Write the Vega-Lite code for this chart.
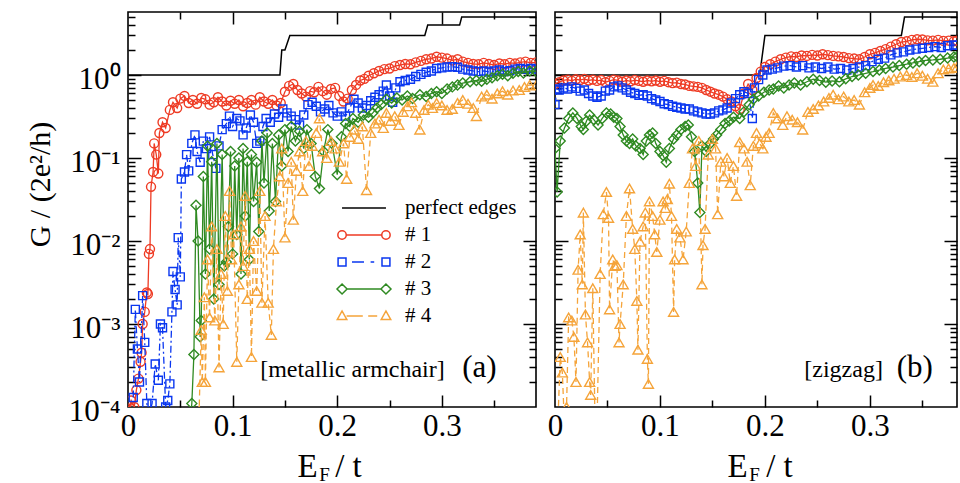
{
"$schema": "https://vega.github.io/schema/vega-lite/v6.json",
"padding": {"left": 24, "top": 10, "right": 0, "bottom": 0},
"background": "white",
"datasets": {
"a0": [{"x":0,"g":1},{"x":0.1452,"g":1},{"x":0.147,"g":2},{"x":0.150,"g":2},{"x":0.1547,"g":3},{"x":0.2837,"g":3},{"x":0.2865,"g":4},{"x":0.317,"g":4},{"x":0.319,"g":5},{"x":0.39,"g":5}],
"b0": [{"x":0,"g":1},{"x":0.195,"g":1},{"x":0.2,"g":3},{"x":0.330,"g":3},{"x":0.333,"g":5},{"x":0.383,"g":5}],
"a1": [{"x":0.000,"g":0.00009},{"x":0.003,"g":0.00012},{"x":0.006,"g":0.0001},{"x":0.008,"g":0.00016},{"x":0.010,"g":0.00022},{"x":0.012,"g":0.00035},{"x":0.013,"g":0.00045},{"x":0.014,"g":0.001},{"x":0.016,"g":0.0014},{"x":0.018,"g":0.0024},{"x":0.019,"g":0.0023},{"x":0.020,"g":0.007},{"x":0.021,"g":0.008},{"x":0.022,"g":0.045},{"x":0.024,"g":0.068},{"x":0.025,"g":0.15},{"x":0.027,"g":0.11},{"x":0.029,"g":0.065},{"x":0.030,"g":0.2},{"x":0.033,"g":0.27},{"x":0.036,"g":0.23},{"x":0.040,"g":0.38},{"x":0.043,"g":0.47},{"x":0.047,"g":0.4},{"x":0.050,"g":0.52},{"x":0.054,"g":0.56},{"x":0.058,"g":0.46},{"x":0.062,"g":0.5},{"x":0.066,"g":0.45},{"x":0.070,"g":0.53},{"x":0.074,"g":0.51},{"x":0.078,"g":0.44},{"x":0.082,"g":0.47},{"x":0.086,"g":0.54},{"x":0.090,"g":0.48},{"x":0.094,"g":0.43},{"x":0.098,"g":0.49},{"x":0.102,"g":0.45},{"x":0.106,"g":0.5},{"x":0.110,"g":0.42},{"x":0.114,"g":0.46},{"x":0.118,"g":0.5},{"x":0.122,"g":0.44},{"x":0.126,"g":0.54},{"x":0.130,"g":0.48},{"x":0.134,"g":0.45},{"x":0.138,"g":0.5},{"x":0.142,"g":0.43},{"x":0.146,"g":0.46},{"x":0.150,"g":0.63},{"x":0.154,"g":0.74},{"x":0.158,"g":0.78},{"x":0.162,"g":0.66},{"x":0.166,"g":0.6},{"x":0.170,"g":0.55},{"x":0.174,"g":0.64},{"x":0.178,"g":0.62},{"x":0.182,"g":0.72},{"x":0.186,"g":0.64},{"x":0.190,"g":0.58},{"x":0.194,"g":0.68},{"x":0.198,"g":0.7},{"x":0.202,"g":0.56},{"x":0.206,"g":0.48},{"x":0.210,"g":0.52},{"x":0.214,"g":0.66},{"x":0.218,"g":0.76},{"x":0.222,"g":0.86},{"x":0.226,"g":0.9},{"x":0.230,"g":0.98},{"x":0.235,"g":1.05},{"x":0.240,"g":1.12},{"x":0.245,"g":1.18},{"x":0.250,"g":1.2},{"x":0.255,"g":1.28},{"x":0.260,"g":1.32},{"x":0.265,"g":1.36},{"x":0.270,"g":1.35},{"x":0.275,"g":1.42},{"x":0.280,"g":1.48},{"x":0.285,"g":1.55},{"x":0.290,"g":1.58},{"x":0.295,"g":1.66},{"x":0.300,"g":1.62},{"x":0.305,"g":1.58},{"x":0.310,"g":1.5},{"x":0.315,"g":1.55},{"x":0.320,"g":1.45},{"x":0.325,"g":1.4},{"x":0.330,"g":1.36},{"x":0.335,"g":1.35},{"x":0.340,"g":1.4},{"x":0.345,"g":1.36},{"x":0.350,"g":1.32},{"x":0.355,"g":1.38},{"x":0.360,"g":1.35},{"x":0.365,"g":1.4},{"x":0.370,"g":1.38},{"x":0.375,"g":1.42},{"x":0.380,"g":1.45},{"x":0.385,"g":1.4},{"x":0.390,"g":1.42}],
"a2": [{"x":0.005,"g":0.00013},{"x":0.007,"g":0.0015},{"x":0.009,"g":0.0005},{"x":0.011,"g":0.0002},{"x":0.014,"g":0.0022},{"x":0.016,"g":0.0006},{"x":0.018,"g":0.00011},{"x":0.020,"g":0.00008},{"x":0.023,"g":0.00011},{"x":0.026,"g":0.00033},{"x":0.029,"g":0.00021},{"x":0.031,"g":0.001},{"x":0.033,"g":0.0009},{"x":0.036,"g":0.0001},{"x":0.038,"g":0.00012},{"x":0.040,"g":0.00019},{"x":0.042,"g":0.0014},{"x":0.043,"g":0.0043},{"x":0.045,"g":0.0026},{"x":0.047,"g":0.0017},{"x":0.048,"g":0.011},{"x":0.050,"g":0.0037},{"x":0.051,"g":0.056},{"x":0.054,"g":0.068},{"x":0.056,"g":0.11},{"x":0.058,"g":0.07},{"x":0.061,"g":0.15},{"x":0.064,"g":0.19},{"x":0.066,"g":0.12},{"x":0.069,"g":0.089},{"x":0.072,"g":0.16},{"x":0.075,"g":0.13},{"x":0.078,"g":0.18},{"x":0.081,"g":0.11},{"x":0.084,"g":0.075},{"x":0.087,"g":0.14},{"x":0.090,"g":0.22},{"x":0.094,"g":0.26},{"x":0.097,"g":0.32},{"x":0.100,"g":0.24},{"x":0.104,"g":0.3},{"x":0.107,"g":0.28},{"x":0.110,"g":0.19},{"x":0.113,"g":0.23},{"x":0.117,"g":0.33},{"x":0.120,"g":0.27},{"x":0.123,"g":0.15},{"x":0.126,"g":0.16},{"x":0.129,"g":0.24},{"x":0.132,"g":0.3},{"x":0.136,"g":0.27},{"x":0.140,"g":0.34},{"x":0.144,"g":0.31},{"x":0.148,"g":0.39},{"x":0.152,"g":0.35},{"x":0.156,"g":0.32},{"x":0.160,"g":0.29},{"x":0.164,"g":0.25},{"x":0.168,"g":0.33},{"x":0.172,"g":0.44},{"x":0.176,"g":0.47},{"x":0.180,"g":0.42},{"x":0.184,"g":0.36},{"x":0.188,"g":0.39},{"x":0.192,"g":0.43},{"x":0.196,"g":0.35},{"x":0.200,"g":0.32},{"x":0.204,"g":0.36},{"x":0.208,"g":0.32},{"x":0.212,"g":0.4},{"x":0.216,"g":0.51},{"x":0.220,"g":0.46},{"x":0.224,"g":0.4},{"x":0.228,"g":0.43},{"x":0.232,"g":0.49},{"x":0.236,"g":0.54},{"x":0.240,"g":0.58},{"x":0.244,"g":0.64},{"x":0.247,"g":0.76},{"x":0.250,"g":0.56},{"x":0.253,"g":0.47},{"x":0.256,"g":0.7},{"x":0.260,"g":0.83},{"x":0.265,"g":0.86},{"x":0.270,"g":0.89},{"x":0.275,"g":0.96},{"x":0.280,"g":1.02},{"x":0.285,"g":1.08},{"x":0.290,"g":1.12},{"x":0.295,"g":1.2},{"x":0.300,"g":1.22},{"x":0.305,"g":1.25},{"x":0.310,"g":1.26},{"x":0.315,"g":1.24},{"x":0.320,"g":1.18},{"x":0.325,"g":1.15},{"x":0.330,"g":1.12},{"x":0.335,"g":1.1},{"x":0.340,"g":1.12},{"x":0.345,"g":1.09},{"x":0.350,"g":1.12},{"x":0.355,"g":1.15},{"x":0.360,"g":1.1},{"x":0.365,"g":1.13},{"x":0.370,"g":1.18},{"x":0.375,"g":1.2},{"x":0.380,"g":1.17},{"x":0.385,"g":1.2},{"x":0.390,"g":1.18}],
"a3": [{"x":0.060,"g":0.00008},{"x":0.061,"g":0.00011},{"x":0.063,"g":0.00043},{"x":0.065,"g":0.027},{"x":0.067,"g":0.01},{"x":0.069,"g":0.0007},{"x":0.070,"g":0.0011},{"x":0.072,"g":0.06},{"x":0.074,"g":0.004},{"x":0.076,"g":0.14},{"x":0.078,"g":0.008},{"x":0.080,"g":0.09},{"x":0.082,"g":0.002},{"x":0.085,"g":0.15},{"x":0.087,"g":0.003},{"x":0.090,"g":0.11},{"x":0.092,"g":0.005},{"x":0.094,"g":0.0056},{"x":0.096,"g":0.015},{"x":0.098,"g":0.12},{"x":0.100,"g":0.007},{"x":0.102,"g":0.08},{"x":0.104,"g":0.012},{"x":0.106,"g":0.1},{"x":0.108,"g":0.004},{"x":0.110,"g":0.13},{"x":0.112,"g":0.02},{"x":0.114,"g":0.09},{"x":0.116,"g":0.006},{"x":0.118,"g":0.11},{"x":0.120,"g":0.03},{"x":0.123,"g":0.089},{"x":0.125,"g":0.013},{"x":0.128,"g":0.16},{"x":0.130,"g":0.05},{"x":0.133,"g":0.2},{"x":0.135,"g":0.023},{"x":0.138,"g":0.15},{"x":0.141,"g":0.03},{"x":0.144,"g":0.19},{"x":0.147,"g":0.08},{"x":0.150,"g":0.22},{"x":0.153,"g":0.12},{"x":0.156,"g":0.24},{"x":0.160,"g":0.16},{"x":0.164,"g":0.21},{"x":0.168,"g":0.13},{"x":0.171,"g":0.22},{"x":0.175,"g":0.15},{"x":0.179,"g":0.06},{"x":0.183,"g":0.043},{"x":0.187,"g":0.12},{"x":0.191,"g":0.22},{"x":0.195,"g":0.15},{"x":0.200,"g":0.063},{"x":0.204,"g":0.18},{"x":0.208,"g":0.26},{"x":0.212,"g":0.24},{"x":0.215,"g":0.3},{"x":0.220,"g":0.27},{"x":0.225,"g":0.33},{"x":0.230,"g":0.31},{"x":0.234,"g":0.35},{"x":0.238,"g":0.4},{"x":0.242,"g":0.44},{"x":0.247,"g":0.51},{"x":0.252,"g":0.46},{"x":0.257,"g":0.53},{"x":0.262,"g":0.5},{"x":0.267,"g":0.56},{"x":0.272,"g":0.52},{"x":0.279,"g":0.58},{"x":0.285,"g":0.55},{"x":0.290,"g":0.6},{"x":0.295,"g":0.63},{"x":0.300,"g":0.6},{"x":0.305,"g":0.68},{"x":0.310,"g":0.72},{"x":0.315,"g":0.76},{"x":0.320,"g":0.8},{"x":0.327,"g":0.83},{"x":0.333,"g":0.86},{"x":0.338,"g":0.84},{"x":0.343,"g":0.89},{"x":0.348,"g":0.93},{"x":0.353,"g":0.98},{"x":0.358,"g":1.02},{"x":0.363,"g":0.98},{"x":0.368,"g":1.05},{"x":0.373,"g":1.1},{"x":0.378,"g":1.06},{"x":0.384,"g":1.12},{"x":0.390,"g":1.1}],
"a4": [{"x":0.066,"g":0.00006},{"x":0.068,"g":0.00009},{"x":0.070,"g":0.00085},{"x":0.071,"g":0.0002},{"x":0.073,"g":0.0021},{"x":0.074,"g":0.0002},{"x":0.076,"g":0.006},{"x":0.078,"g":0.0012},{"x":0.080,"g":0.015},{"x":0.083,"g":0.0011},{"x":0.085,"g":0.008},{"x":0.087,"g":0.0003},{"x":0.089,"g":0.004},{"x":0.091,"g":0.001},{"x":0.093,"g":0.02},{"x":0.095,"g":0.0025},{"x":0.097,"g":0.04},{"x":0.099,"g":0.006},{"x":0.101,"g":0.012},{"x":0.104,"g":0.00035},{"x":0.106,"g":0.003},{"x":0.108,"g":0.015},{"x":0.110,"g":0.005},{"x":0.112,"g":0.035},{"x":0.114,"g":0.002},{"x":0.116,"g":0.008},{"x":0.118,"g":0.0004},{"x":0.120,"g":0.01},{"x":0.123,"g":0.0025},{"x":0.126,"g":0.04},{"x":0.128,"g":0.0018},{"x":0.131,"g":0.02},{"x":0.134,"g":0.0018},{"x":0.137,"g":0.00074},{"x":0.139,"g":0.008},{"x":0.142,"g":0.03},{"x":0.145,"g":0.06},{"x":0.147,"g":0.13},{"x":0.150,"g":0.011},{"x":0.153,"g":0.05},{"x":0.156,"g":0.09},{"x":0.158,"g":0.018},{"x":0.161,"g":0.07},{"x":0.164,"g":0.12},{"x":0.167,"g":0.04},{"x":0.170,"g":0.16},{"x":0.173,"g":0.08},{"x":0.176,"g":0.14},{"x":0.180,"g":0.2},{"x":0.183,"g":0.3},{"x":0.186,"g":0.12},{"x":0.190,"g":0.1},{"x":0.194,"g":0.16},{"x":0.198,"g":0.13},{"x":0.202,"g":0.09},{"x":0.206,"g":0.15},{"x":0.209,"g":0.056},{"x":0.212,"g":0.18},{"x":0.216,"g":0.22},{"x":0.220,"g":0.17},{"x":0.224,"g":0.24},{"x":0.228,"g":0.041},{"x":0.232,"g":0.2},{"x":0.236,"g":0.26},{"x":0.240,"g":0.29},{"x":0.244,"g":0.23},{"x":0.247,"g":0.35},{"x":0.251,"g":0.28},{"x":0.255,"g":0.32},{"x":0.259,"g":0.25},{"x":0.263,"g":0.36},{"x":0.267,"g":0.42},{"x":0.271,"g":0.47},{"x":0.275,"g":0.35},{"x":0.279,"g":0.22},{"x":0.283,"g":0.38},{"x":0.287,"g":0.44},{"x":0.291,"g":0.4},{"x":0.295,"g":0.46},{"x":0.300,"g":0.43},{"x":0.305,"g":0.38},{"x":0.310,"g":0.39},{"x":0.315,"g":0.46},{"x":0.320,"g":0.5},{"x":0.325,"g":0.45},{"x":0.330,"g":0.4},{"x":0.333,"g":0.32},{"x":0.338,"g":0.55},{"x":0.343,"g":0.58},{"x":0.348,"g":0.52},{"x":0.353,"g":0.6},{"x":0.358,"g":0.64},{"x":0.363,"g":0.58},{"x":0.368,"g":0.65},{"x":0.374,"g":0.66},{"x":0.379,"g":0.72},{"x":0.384,"g":0.76},{"x":0.390,"g":0.75}],
"b1": [{"x":0.000,"g":0.78},{"x":0.004,"g":0.82},{"x":0.008,"g":0.86},{"x":0.012,"g":0.88},{"x":0.016,"g":0.85},{"x":0.020,"g":0.89},{"x":0.024,"g":0.87},{"x":0.028,"g":0.9},{"x":0.032,"g":0.86},{"x":0.036,"g":0.88},{"x":0.040,"g":0.85},{"x":0.044,"g":0.87},{"x":0.048,"g":0.82},{"x":0.052,"g":0.85},{"x":0.056,"g":0.88},{"x":0.060,"g":0.86},{"x":0.064,"g":0.83},{"x":0.068,"g":0.86},{"x":0.072,"g":0.84},{"x":0.076,"g":0.87},{"x":0.080,"g":0.85},{"x":0.084,"g":0.83},{"x":0.088,"g":0.86},{"x":0.092,"g":0.84},{"x":0.096,"g":0.86},{"x":0.100,"g":0.83},{"x":0.104,"g":0.85},{"x":0.108,"g":0.82},{"x":0.112,"g":0.8},{"x":0.116,"g":0.81},{"x":0.120,"g":0.78},{"x":0.124,"g":0.77},{"x":0.128,"g":0.74},{"x":0.132,"g":0.73},{"x":0.136,"g":0.72},{"x":0.140,"g":0.7},{"x":0.144,"g":0.66},{"x":0.148,"g":0.63},{"x":0.152,"g":0.6},{"x":0.156,"g":0.58},{"x":0.160,"g":0.55},{"x":0.164,"g":0.51},{"x":0.168,"g":0.48},{"x":0.172,"g":0.42},{"x":0.176,"g":0.39},{"x":0.180,"g":0.6},{"x":0.184,"g":0.78},{"x":0.188,"g":0.66},{"x":0.192,"g":0.92},{"x":0.196,"g":1.1},{"x":0.200,"g":1.25},{"x":0.205,"g":1.35},{"x":0.210,"g":1.45},{"x":0.215,"g":1.55},{"x":0.220,"g":1.62},{"x":0.225,"g":1.68},{"x":0.230,"g":1.65},{"x":0.235,"g":1.72},{"x":0.240,"g":1.7},{"x":0.245,"g":1.75},{"x":0.250,"g":1.72},{"x":0.255,"g":1.78},{"x":0.260,"g":1.74},{"x":0.265,"g":1.7},{"x":0.270,"g":1.68},{"x":0.275,"g":1.65},{"x":0.280,"g":1.6},{"x":0.285,"g":1.58},{"x":0.290,"g":1.55},{"x":0.295,"g":1.65},{"x":0.300,"g":1.78},{"x":0.305,"g":1.85},{"x":0.310,"g":1.95},{"x":0.315,"g":2.05},{"x":0.320,"g":2.2},{"x":0.325,"g":2.35},{"x":0.330,"g":2.5},{"x":0.335,"g":2.55},{"x":0.340,"g":2.65},{"x":0.345,"g":2.7},{"x":0.350,"g":2.68},{"x":0.355,"g":2.62},{"x":0.360,"g":2.6},{"x":0.365,"g":2.65},{"x":0.370,"g":2.58},{"x":0.375,"g":2.6},{"x":0.380,"g":2.55},{"x":0.383,"g":2.6}],
"b2": [{"x":0.000,"g":0.44},{"x":0.002,"g":0.68},{"x":0.004,"g":0.66},{"x":0.008,"g":0.7},{"x":0.012,"g":0.68},{"x":0.016,"g":0.72},{"x":0.020,"g":0.69},{"x":0.024,"g":0.64},{"x":0.028,"g":0.66},{"x":0.032,"g":0.6},{"x":0.036,"g":0.56},{"x":0.040,"g":0.54},{"x":0.044,"g":0.56},{"x":0.048,"g":0.64},{"x":0.052,"g":0.66},{"x":0.056,"g":0.72},{"x":0.060,"g":0.74},{"x":0.064,"g":0.7},{"x":0.068,"g":0.66},{"x":0.072,"g":0.62},{"x":0.076,"g":0.6},{"x":0.080,"g":0.57},{"x":0.084,"g":0.58},{"x":0.088,"g":0.56},{"x":0.092,"g":0.52},{"x":0.096,"g":0.5},{"x":0.100,"g":0.48},{"x":0.104,"g":0.45},{"x":0.108,"g":0.44},{"x":0.112,"g":0.42},{"x":0.116,"g":0.41},{"x":0.120,"g":0.4},{"x":0.124,"g":0.39},{"x":0.128,"g":0.39},{"x":0.132,"g":0.37},{"x":0.136,"g":0.36},{"x":0.140,"g":0.35},{"x":0.144,"g":0.34},{"x":0.148,"g":0.34},{"x":0.152,"g":0.35},{"x":0.156,"g":0.37},{"x":0.160,"g":0.38},{"x":0.164,"g":0.4},{"x":0.168,"g":0.46},{"x":0.172,"g":0.52},{"x":0.176,"g":0.58},{"x":0.180,"g":0.63},{"x":0.184,"g":0.6},{"x":0.188,"g":0.3},{"x":0.190,"g":0.7},{"x":0.194,"g":0.88},{"x":0.198,"g":1.0},{"x":0.202,"g":1.15},{"x":0.207,"g":1.18},{"x":0.212,"g":1.22},{"x":0.218,"g":1.28},{"x":0.224,"g":1.3},{"x":0.230,"g":1.25},{"x":0.236,"g":1.3},{"x":0.242,"g":1.22},{"x":0.248,"g":1.25},{"x":0.254,"g":1.2},{"x":0.260,"g":1.25},{"x":0.266,"g":1.18},{"x":0.272,"g":1.2},{"x":0.278,"g":1.15},{"x":0.284,"g":1.2},{"x":0.290,"g":1.25},{"x":0.296,"g":1.3},{"x":0.302,"g":1.45},{"x":0.308,"g":1.55},{"x":0.314,"g":1.6},{"x":0.320,"g":1.75},{"x":0.326,"g":1.85},{"x":0.332,"g":1.9},{"x":0.338,"g":2.0},{"x":0.344,"g":2.05},{"x":0.350,"g":2.1},{"x":0.356,"g":2.15},{"x":0.362,"g":2.2},{"x":0.368,"g":2.15},{"x":0.374,"g":2.25},{"x":0.380,"g":2.3},{"x":0.383,"g":2.28}],
"b3": [{"x":0.000,"g":0.13},{"x":0.002,"g":0.039},{"x":0.005,"g":0.16},{"x":0.009,"g":0.23},{"x":0.013,"g":0.3},{"x":0.017,"g":0.35},{"x":0.021,"g":0.3},{"x":0.025,"g":0.24},{"x":0.027,"g":0.22},{"x":0.030,"g":0.28},{"x":0.033,"g":0.33},{"x":0.037,"g":0.29},{"x":0.041,"g":0.25},{"x":0.045,"g":0.3},{"x":0.049,"g":0.35},{"x":0.053,"g":0.34},{"x":0.056,"g":0.31},{"x":0.059,"g":0.3},{"x":0.062,"g":0.24},{"x":0.065,"g":0.19},{"x":0.068,"g":0.16},{"x":0.071,"g":0.15},{"x":0.074,"g":0.17},{"x":0.077,"g":0.14},{"x":0.081,"g":0.13},{"x":0.084,"g":0.11},{"x":0.087,"g":0.16},{"x":0.090,"g":0.19},{"x":0.093,"g":0.2},{"x":0.096,"g":0.15},{"x":0.100,"g":0.12},{"x":0.103,"g":0.107},{"x":0.106,"g":0.089},{"x":0.109,"g":0.13},{"x":0.113,"g":0.17},{"x":0.116,"g":0.19},{"x":0.120,"g":0.22},{"x":0.124,"g":0.24},{"x":0.127,"g":0.25},{"x":0.130,"g":0.18},{"x":0.133,"g":0.12},{"x":0.136,"g":0.05},{"x":0.138,"g":0.022},{"x":0.140,"g":0.14},{"x":0.144,"g":0.12},{"x":0.148,"g":0.15},{"x":0.151,"g":0.17},{"x":0.154,"g":0.19},{"x":0.158,"g":0.22},{"x":0.162,"g":0.26},{"x":0.166,"g":0.28},{"x":0.170,"g":0.31},{"x":0.176,"g":0.3},{"x":0.180,"g":0.36},{"x":0.185,"g":0.44},{"x":0.189,"g":0.51},{"x":0.194,"g":0.56},{"x":0.199,"g":0.62},{"x":0.204,"g":0.66},{"x":0.208,"g":0.68},{"x":0.213,"g":0.74},{"x":0.218,"g":0.7},{"x":0.223,"g":0.76},{"x":0.228,"g":0.8},{"x":0.234,"g":0.76},{"x":0.240,"g":0.83},{"x":0.246,"g":0.89},{"x":0.252,"g":0.86},{"x":0.258,"g":0.82},{"x":0.264,"g":0.85},{"x":0.271,"g":0.83},{"x":0.277,"g":0.9},{"x":0.283,"g":0.96},{"x":0.289,"g":1.0},{"x":0.296,"g":1.05},{"x":0.303,"g":1.1},{"x":0.309,"g":1.15},{"x":0.315,"g":1.2},{"x":0.322,"g":1.25},{"x":0.328,"g":1.3},{"x":0.335,"g":1.35},{"x":0.341,"g":1.4},{"x":0.347,"g":1.45},{"x":0.353,"g":1.5},{"x":0.360,"g":1.52},{"x":0.367,"g":1.55},{"x":0.374,"g":1.6},{"x":0.380,"g":1.65},{"x":0.383,"g":1.66}],
"b4": [{"x":0.000,"g":0.00006},{"x":0.003,"g":0.00008},{"x":0.005,"g":0.0004},{"x":0.007,"g":0.00026},{"x":0.009,"g":0.00006},{"x":0.011,"g":0.0001},{"x":0.013,"g":0.0012},{"x":0.016,"g":0.0011},{"x":0.018,"g":0.0007},{"x":0.020,"g":0.0002},{"x":0.022,"g":0.0045},{"x":0.024,"g":0.012},{"x":0.026,"g":0.003},{"x":0.027,"g":0.022},{"x":0.029,"g":0.0013},{"x":0.031,"g":0.0006},{"x":0.033,"g":0.0002},{"x":0.034,"g":0.00014},{"x":0.036,"g":0.0027},{"x":0.038,"g":0.00008},{"x":0.040,"g":0.00006},{"x":0.043,"g":0.004},{"x":0.046,"g":0.021},{"x":0.049,"g":0.039},{"x":0.051,"g":0.019},{"x":0.052,"g":0.0015},{"x":0.055,"g":0.006},{"x":0.057,"g":0.005},{"x":0.059,"g":0.0051},{"x":0.061,"g":0.0006},{"x":0.062,"g":0.001},{"x":0.065,"g":0.003},{"x":0.068,"g":0.02},{"x":0.071,"g":0.043},{"x":0.074,"g":0.014},{"x":0.076,"g":0.008},{"x":0.078,"g":0.0019},{"x":0.079,"g":0.00049},{"x":0.081,"g":0.0098},{"x":0.084,"g":0.015},{"x":0.086,"g":0.022},{"x":0.088,"g":0.00038},{"x":0.089,"g":0.00019},{"x":0.090,"g":0.03},{"x":0.093,"g":0.02},{"x":0.095,"g":0.012},{"x":0.097,"g":0.0074},{"x":0.100,"g":0.018},{"x":0.103,"g":0.03},{"x":0.105,"g":0.025},{"x":0.107,"g":0.032},{"x":0.109,"g":0.049},{"x":0.111,"g":0.02},{"x":0.113,"g":0.0014},{"x":0.114,"g":0.006},{"x":0.116,"g":0.014},{"x":0.119,"g":0.011},{"x":0.122,"g":0.006},{"x":0.125,"g":0.013},{"x":0.128,"g":0.05},{"x":0.131,"g":0.13},{"x":0.134,"g":0.08},{"x":0.137,"g":0.16},{"x":0.140,"g":0.003},{"x":0.141,"g":0.0089},{"x":0.143,"g":0.014},{"x":0.146,"g":0.11},{"x":0.150,"g":0.17},{"x":0.153,"g":0.13},{"x":0.155,"g":0.021},{"x":0.158,"g":0.09},{"x":0.161,"g":0.06},{"x":0.164,"g":0.1},{"x":0.167,"g":0.05},{"x":0.170,"g":0.08},{"x":0.173,"g":0.035},{"x":0.176,"g":0.155},{"x":0.180,"g":0.13},{"x":0.183,"g":0.09},{"x":0.186,"g":0.047},{"x":0.189,"g":0.14},{"x":0.192,"g":0.2},{"x":0.195,"g":0.15},{"x":0.198,"g":0.13},{"x":0.201,"g":0.18},{"x":0.204,"g":0.2},{"x":0.208,"g":0.35},{"x":0.212,"g":0.3},{"x":0.217,"g":0.25},{"x":0.221,"g":0.32},{"x":0.226,"g":0.29},{"x":0.231,"g":0.27},{"x":0.236,"g":0.22},{"x":0.241,"g":0.36},{"x":0.246,"g":0.39},{"x":0.251,"g":0.43},{"x":0.256,"g":0.48},{"x":0.261,"g":0.53},{"x":0.265,"g":0.58},{"x":0.270,"g":0.51},{"x":0.275,"g":0.55},{"x":0.280,"g":0.48},{"x":0.285,"g":0.5},{"x":0.290,"g":0.44},{"x":0.295,"g":0.62},{"x":0.300,"g":0.7},{"x":0.303,"g":0.76},{"x":0.308,"g":0.74},{"x":0.313,"g":0.82},{"x":0.318,"g":0.86},{"x":0.323,"g":0.9},{"x":0.329,"g":0.96},{"x":0.335,"g":1.0},{"x":0.340,"g":0.95},{"x":0.345,"g":1.05},{"x":0.350,"g":0.98},{"x":0.355,"g":0.9},{"x":0.360,"g":0.83},{"x":0.365,"g":1.05},{"x":0.370,"g":1.17},{"x":0.375,"g":1.2},{"x":0.380,"g":1.22},{"x":0.383,"g":1.25}],
"leg": [{"s":"perfect edges"},{"s":"# 1"},{"s":"# 2"},{"s":"# 3"},{"s":"# 4"}],
"ta1": [{"t":"[metallic armchair]"}],
"ta2": [{"t":"(a)"}],
"tb1": [{"t":"[zigzag]"}],
"tb2": [{"t":"(b)"}]
},
"hconcat": [
{
"width": 408, "height": 395,
"resolve": {"axis": {"x": "independent", "y": "independent"}},
"layer": [
{"data": {"name": "a0"}, "mark": {"type": "line", "color": "#000", "strokeWidth": 1.5, "clip": true},
 "encoding": {
  "x": {"field": "x", "type": "quantitative", "scale": {"domain": [0, 0.39], "nice": false, "zero": false},
   "axis": {"orient": "bottom", "values": [0, 0.1, 0.2, 0.3], "labelExpr": "datum.value == 0 ? '0' : format(datum.value, '.1f')", "ticks": false, "labelPadding": 4, "labelFlush": false, "labelOverlap": false, "title": "E", "titleFontSize": 33, "titleX": 179, "titleY": 69, "titleBaseline": "alphabetic", "titleAlign": "center", "titleAnchor": null}},
  "y": {"field": "g", "type": "quantitative", "scale": {"type": "log", "domain": [0.0001, 5.75], "nice": false},
   "axis": {"orient": "left", "values": [0.0001, 0.001, 0.01, 0.1, 1], "labelExpr": "datum.value > 0.5 ? '10⁰' : datum.value > 0.05 ? '10⁻¹' : datum.value > 0.005 ? '10⁻²' : datum.value > 0.0005 ? '10⁻³' : '10⁻⁴'", "ticks": false, "labelPadding": 8, "labelBaseline": "middle", "labelOffset": 4, "labelFlush": false, "labelOverlap": false, "title": "G  / (2e²/h)", "titleFontSize": 30, "titleAngle": 270, "titleX": -88, "titleY": 172, "titleBaseline": "middle", "titleAlign": "center", "titleAnchor": null}}
 }},
{"data": {"name": "a1"}, "mark": {"type": "line", "color": "#ee3b24", "strokeWidth": 1.3, "clip": true},
 "encoding": {
  "x": {"field": "x", "type": "quantitative", "scale": {"domain": [0, 0.39], "nice": false, "zero": false},
   "axis": {"orient": "bottom", "values": [0.1, 0.2, 0.3], "labels": false, "tickSize": -12, "title": "F", "titleFontSize": 19, "titleX": 196, "titleY": 73, "titleBaseline": "alphabetic", "titleAlign": "center", "titleAnchor": null}},
  "y": {"field": "g", "type": "quantitative", "scale": {"type": "log", "domain": [0.0001, 5.75], "nice": false},
   "axis": {"orient": "left", "values": [0.001, 0.01, 0.1, 1], "labels": false, "tickSize": -13, "title": null}}
 }},
{"data": {"name": "a1"}, "mark": {"type": "point", "shape": "circle", "filled": false, "color": "#ee3b24", "size": 81, "strokeWidth": 1.4, "opacity": 1, "clip": true},
 "encoding": {
  "x": {"field": "x", "type": "quantitative", "scale": {"domain": [0, 0.39], "nice": false, "zero": false},
   "axis": {"orient": "bottom", "values": [0.05, 0.15, 0.25, 0.35], "labels": false, "tickSize": -7, "title": "/ t", "titleFontSize": 33, "titleX": 220, "titleY": 69, "titleBaseline": "alphabetic", "titleAlign": "center", "titleAnchor": null}},
  "y": {"field": "g", "type": "quantitative", "scale": {"type": "log", "domain": [0.0001, 5.75], "nice": false},
   "axis": {"orient": "left", "values": [0.0002,0.0003,0.0004,0.0005,0.0006,0.0007,0.0008,0.0009,0.002,0.003,0.004,0.005,0.006,0.007,0.008,0.009,0.02,0.03,0.04,0.05,0.06,0.07,0.08,0.09,0.2,0.3,0.4,0.5,0.6,0.7,0.8,0.9,2,3,4,5], "labels": false, "tickSize": -7, "title": null}}
 }},
{"data": {"name": "a2"}, "mark": {"type": "line", "color": "#0a37f0", "strokeWidth": 1.3, "strokeDash": [7, 3, 2, 3], "clip": true},
 "encoding": {
  "x": {"field": "x", "type": "quantitative", "scale": {"domain": [0, 0.39], "nice": false, "zero": false},
   "axis": {"orient": "top", "values": [0.1, 0.2, 0.3], "labels": false, "tickSize": -12, "title": null}},
  "y": {"field": "g", "type": "quantitative", "scale": {"type": "log", "domain": [0.0001, 5.75], "nice": false},
   "axis": {"orient": "right", "values": [0.001, 0.01, 0.1, 1], "labels": false, "tickSize": -13, "title": null}}
 }},
{"data": {"name": "a2"}, "mark": {"type": "point", "shape": "square", "filled": false, "color": "#0a37f0", "size": 64, "strokeWidth": 1.4, "opacity": 1, "clip": true},
 "encoding": {
  "x": {"field": "x", "type": "quantitative", "scale": {"domain": [0, 0.39], "nice": false, "zero": false},
   "axis": {"orient": "top", "values": [0.05, 0.15, 0.25, 0.35], "labels": false, "tickSize": -7, "title": null}},
  "y": {"field": "g", "type": "quantitative", "scale": {"type": "log", "domain": [0.0001, 5.75], "nice": false},
   "axis": {"orient": "right", "values": [0.0002,0.0003,0.0004,0.0005,0.0006,0.0007,0.0008,0.0009,0.002,0.003,0.004,0.005,0.006,0.007,0.008,0.009,0.02,0.03,0.04,0.05,0.06,0.07,0.08,0.09,0.2,0.3,0.4,0.5,0.6,0.7,0.8,0.9,2,3,4,5], "labels": false, "tickSize": -7, "title": null}}
 }},
{"data": {"name": "a3"}, "mark": {"type": "line", "color": "#2f8a22", "strokeWidth": 1.3, "clip": true},
 "encoding": {
  "x": {"field": "x", "type": "quantitative", "scale": {"domain": [0, 0.39], "nice": false, "zero": false}, "axis": null},
  "y": {"field": "g", "type": "quantitative", "scale": {"type": "log", "domain": [0.0001, 5.75], "nice": false}, "axis": null}
 }},
{"data": {"name": "a3"}, "mark": {"type": "point", "shape": "diamond", "filled": false, "color": "#2f8a22", "size": 100, "strokeWidth": 1.4, "opacity": 1, "clip": true},
 "encoding": {
  "x": {"field": "x", "type": "quantitative", "scale": {"domain": [0, 0.39], "nice": false, "zero": false}, "axis": null},
  "y": {"field": "g", "type": "quantitative", "scale": {"type": "log", "domain": [0.0001, 5.75], "nice": false}, "axis": null}
 }},
{"data": {"name": "a4"}, "mark": {"type": "line", "color": "#f5a43a", "strokeWidth": 1.3, "strokeDash": [6, 4], "clip": true},
 "encoding": {
  "x": {"field": "x", "type": "quantitative", "scale": {"domain": [0, 0.39], "nice": false, "zero": false}, "axis": null},
  "y": {"field": "g", "type": "quantitative", "scale": {"type": "log", "domain": [0.0001, 5.75], "nice": false}, "axis": null}
 }},
{"data": {"name": "a4"}, "mark": {"type": "point", "shape": "triangle-up", "filled": false, "color": "#f5a43a", "size": 100, "strokeWidth": 1.4, "opacity": 1, "clip": true},
 "encoding": {
  "x": {"field": "x", "type": "quantitative", "scale": {"domain": [0, 0.39], "nice": false, "zero": false}, "axis": null},
  "y": {"field": "g", "type": "quantitative", "scale": {"type": "log", "domain": [0.0001, 5.75], "nice": false}, "axis": null}
 }},
{"data": {"name": "leg"}, "mark": {"type": "point", "filled": false, "opacity": 0},
 "encoding": {
  "color": {"field": "s", "type": "nominal",
   "scale": {"domain": ["perfect edges", "# 1", "# 2", "# 3", "# 4"], "range": ["#000000", "#ee3b24", "#0a37f0", "#2f8a22", "#f5a43a"]},
   "legend": {"title": null, "orient": "none", "legendX": 223, "legendY": 183, "symbolSize": 576, "symbolStrokeWidth": 1.5, "labelFontSize": 21, "labelOffset": 28, "rowPadding": 4, "padding": 0, "labelLimit": 400}},
  "shape": {"field": "s", "type": "nominal",
   "scale": {"domain": ["perfect edges", "# 1", "# 2", "# 3", "# 4"], "range": [
    "M-1.83,0L1.83,0",
    "M-1.48,0L1.48,0M-1.48,0A0.35,0.35,0,1,0,-2.18,0A0.35,0.35,0,1,0,-1.48,0M2.18,0A0.35,0.35,0,1,0,1.48,0A0.35,0.35,0,1,0,2.18,0",
    "M-2.16,-0.33L-1.5,-0.33L-1.5,0.33L-2.16,0.33ZM1.5,-0.33L2.16,-0.33L2.16,0.33L1.5,0.33ZM-1.0,0L0,0M0.55,0L0.85,0",
    "M-2.25,0L-1.83,-0.42L-1.41,0L-1.83,0.42ZM1.41,0L1.83,-0.42L2.25,0L1.83,0.42ZM-1.41,0L1.41,0",
    "M-2.23,0.3L-1.83,-0.42L-1.43,0.3ZM1.43,0.3L1.83,-0.42L2.23,0.3ZM-1.45,0L-0.1,0M0.35,0L1.1,0"
   ]},
   "legend": {"title": null, "orient": "none", "legendX": 223, "legendY": 183, "symbolSize": 576, "symbolStrokeWidth": 1.5, "labelFontSize": 21, "labelOffset": 28, "rowPadding": 4, "padding": 0, "labelLimit": 400}}
 }},
{"data": {"name": "ta1"}, "mark": {"type": "text", "align": "right", "baseline": "alphabetic", "fontSize": 24, "font": "Liberation Serif", "color": "#000"},
 "encoding": {
  "x": {"datum": 0.3028, "type": "quantitative", "scale": {"domain": [0, 0.39], "nice": false, "zero": false}, "axis": null},
  "y": {"datum": 0.00023, "type": "quantitative", "scale": {"type": "log", "domain": [0.0001, 5.75], "nice": false}, "axis": null},
  "text": {"field": "t"}
 }},
{"data": {"name": "ta2"}, "mark": {"type": "text", "align": "right", "baseline": "alphabetic", "fontSize": 31, "font": "Liberation Serif", "color": "#000"},
 "encoding": {
  "x": {"datum": 0.3524, "type": "quantitative", "scale": {"domain": [0, 0.39], "nice": false, "zero": false}, "axis": null},
  "y": {"datum": 0.00023, "type": "quantitative", "scale": {"type": "log", "domain": [0.0001, 5.75], "nice": false}, "axis": null},
  "text": {"field": "t"}
 }}
]
},
{
"width": 402, "height": 395,
"resolve": {"axis": {"x": "independent", "y": "independent"}},
"layer": [
{"data": {"name": "b0"}, "mark": {"type": "line", "color": "#000", "strokeWidth": 1.5, "clip": true},
 "encoding": {
  "x": {"field": "x", "type": "quantitative", "scale": {"domain": [0, 0.383], "nice": false, "zero": false},
   "axis": {"orient": "bottom", "values": [0, 0.1, 0.2, 0.3], "labelExpr": "datum.value == 0 ? '0' : format(datum.value, '.1f')", "ticks": false, "labelPadding": 4, "labelFlush": false, "labelOverlap": false, "title": "E", "titleFontSize": 33, "titleX": 182, "titleY": 69, "titleBaseline": "alphabetic", "titleAlign": "center", "titleAnchor": null}},
  "y": {"field": "g", "type": "quantitative", "scale": {"type": "log", "domain": [0.0001, 5.75], "nice": false},
   "axis": {"orient": "left", "values": [0.001, 0.01, 0.1, 1], "labels": false, "tickSize": -13, "title": null}}
 }},
{"data": {"name": "b1"}, "mark": {"type": "line", "color": "#ee3b24", "strokeWidth": 1.3, "clip": true},
 "encoding": {
  "x": {"field": "x", "type": "quantitative", "scale": {"domain": [0, 0.383], "nice": false, "zero": false},
   "axis": {"orient": "bottom", "values": [0.1, 0.2, 0.3], "labels": false, "tickSize": -12, "title": "F", "titleFontSize": 19, "titleX": 199, "titleY": 73, "titleBaseline": "alphabetic", "titleAlign": "center", "titleAnchor": null}},
  "y": {"field": "g", "type": "quantitative", "scale": {"type": "log", "domain": [0.0001, 5.75], "nice": false},
   "axis": {"orient": "left", "values": [0.0002,0.0003,0.0004,0.0005,0.0006,0.0007,0.0008,0.0009,0.002,0.003,0.004,0.005,0.006,0.007,0.008,0.009,0.02,0.03,0.04,0.05,0.06,0.07,0.08,0.09,0.2,0.3,0.4,0.5,0.6,0.7,0.8,0.9,2,3,4,5], "labels": false, "tickSize": -7, "title": null}}
 }},
{"data": {"name": "b1"}, "mark": {"type": "point", "shape": "circle", "filled": false, "color": "#ee3b24", "size": 81, "strokeWidth": 1.4, "opacity": 1, "clip": true},
 "encoding": {
  "x": {"field": "x", "type": "quantitative", "scale": {"domain": [0, 0.383], "nice": false, "zero": false},
   "axis": {"orient": "bottom", "values": [0.05, 0.15, 0.25, 0.35], "labels": false, "tickSize": -7, "title": "/ t", "titleFontSize": 33, "titleX": 224, "titleY": 69, "titleBaseline": "alphabetic", "titleAlign": "center", "titleAnchor": null}},
  "y": {"field": "g", "type": "quantitative", "scale": {"type": "log", "domain": [0.0001, 5.75], "nice": false},
   "axis": {"orient": "right", "values": [0.001, 0.01, 0.1, 1], "labels": false, "tickSize": -13, "title": null}}
 }},
{"data": {"name": "b2"}, "mark": {"type": "line", "color": "#0a37f0", "strokeWidth": 1.3, "strokeDash": [7, 3, 2, 3], "clip": true},
 "encoding": {
  "x": {"field": "x", "type": "quantitative", "scale": {"domain": [0, 0.383], "nice": false, "zero": false},
   "axis": {"orient": "top", "values": [0.1, 0.2, 0.3], "labels": false, "tickSize": -12, "title": null}},
  "y": {"field": "g", "type": "quantitative", "scale": {"type": "log", "domain": [0.0001, 5.75], "nice": false},
   "axis": {"orient": "right", "values": [0.0002,0.0003,0.0004,0.0005,0.0006,0.0007,0.0008,0.0009,0.002,0.003,0.004,0.005,0.006,0.007,0.008,0.009,0.02,0.03,0.04,0.05,0.06,0.07,0.08,0.09,0.2,0.3,0.4,0.5,0.6,0.7,0.8,0.9,2,3,4,5], "labels": false, "tickSize": -7, "title": null}}
 }},
{"data": {"name": "b2"}, "mark": {"type": "point", "shape": "square", "filled": false, "color": "#0a37f0", "size": 64, "strokeWidth": 1.4, "opacity": 1, "clip": true},
 "encoding": {
  "x": {"field": "x", "type": "quantitative", "scale": {"domain": [0, 0.383], "nice": false, "zero": false},
   "axis": {"orient": "top", "values": [0.05, 0.15, 0.25, 0.35], "labels": false, "tickSize": -7, "title": null}},
  "y": {"field": "g", "type": "quantitative", "scale": {"type": "log", "domain": [0.0001, 5.75], "nice": false}, "axis": null}
 }},
{"data": {"name": "b3"}, "mark": {"type": "line", "color": "#2f8a22", "strokeWidth": 1.3, "clip": true},
 "encoding": {
  "x": {"field": "x", "type": "quantitative", "scale": {"domain": [0, 0.383], "nice": false, "zero": false}, "axis": null},
  "y": {"field": "g", "type": "quantitative", "scale": {"type": "log", "domain": [0.0001, 5.75], "nice": false}, "axis": null}
 }},
{"data": {"name": "b3"}, "mark": {"type": "point", "shape": "diamond", "filled": false, "color": "#2f8a22", "size": 100, "strokeWidth": 1.4, "opacity": 1, "clip": true},
 "encoding": {
  "x": {"field": "x", "type": "quantitative", "scale": {"domain": [0, 0.383], "nice": false, "zero": false}, "axis": null},
  "y": {"field": "g", "type": "quantitative", "scale": {"type": "log", "domain": [0.0001, 5.75], "nice": false}, "axis": null}
 }},
{"data": {"name": "b4"}, "mark": {"type": "line", "color": "#f5a43a", "strokeWidth": 1.3, "strokeDash": [6, 4], "clip": true},
 "encoding": {
  "x": {"field": "x", "type": "quantitative", "scale": {"domain": [0, 0.383], "nice": false, "zero": false}, "axis": null},
  "y": {"field": "g", "type": "quantitative", "scale": {"type": "log", "domain": [0.0001, 5.75], "nice": false}, "axis": null}
 }},
{"data": {"name": "b4"}, "mark": {"type": "point", "shape": "triangle-up", "filled": false, "color": "#f5a43a", "size": 100, "strokeWidth": 1.4, "opacity": 1, "clip": true},
 "encoding": {
  "x": {"field": "x", "type": "quantitative", "scale": {"domain": [0, 0.383], "nice": false, "zero": false}, "axis": null},
  "y": {"field": "g", "type": "quantitative", "scale": {"type": "log", "domain": [0.0001, 5.75], "nice": false}, "axis": null}
 }},
{"data": {"name": "tb1"}, "mark": {"type": "text", "align": "right", "baseline": "alphabetic", "fontSize": 24, "font": "Liberation Serif", "color": "#000"},
 "encoding": {
  "x": {"datum": 0.3124, "type": "quantitative", "scale": {"domain": [0, 0.383], "nice": false, "zero": false}, "axis": null},
  "y": {"datum": 0.00023, "type": "quantitative", "scale": {"type": "log", "domain": [0.0001, 5.75], "nice": false}, "axis": null},
  "text": {"field": "t"}
 }},
{"data": {"name": "tb2"}, "mark": {"type": "text", "align": "right", "baseline": "alphabetic", "fontSize": 31, "font": "Liberation Serif", "color": "#000"},
 "encoding": {
  "x": {"datum": 0.36, "type": "quantitative", "scale": {"domain": [0, 0.383], "nice": false, "zero": false}, "axis": null},
  "y": {"datum": 0.00023, "type": "quantitative", "scale": {"type": "log", "domain": [0.0001, 5.75], "nice": false}, "axis": null},
  "text": {"field": "t"}
 }}
]
}
],
"spacing": 19,
"bounds": "flush",
"config": {
 "view": {"stroke": "#000", "strokeWidth": 1.6},
 "axis": {"grid": false, "domain": false, "tickColor": "#000", "tickWidth": 1.5, "labelFont": "Liberation Serif", "labelFontSize": 31, "labelColor": "#000", "titleFont": "Liberation Serif", "titleColor": "#000", "titleFontWeight": "normal"},
 "legend": {"labelFont": "Liberation Serif", "labelColor": "#000"}
}
}
